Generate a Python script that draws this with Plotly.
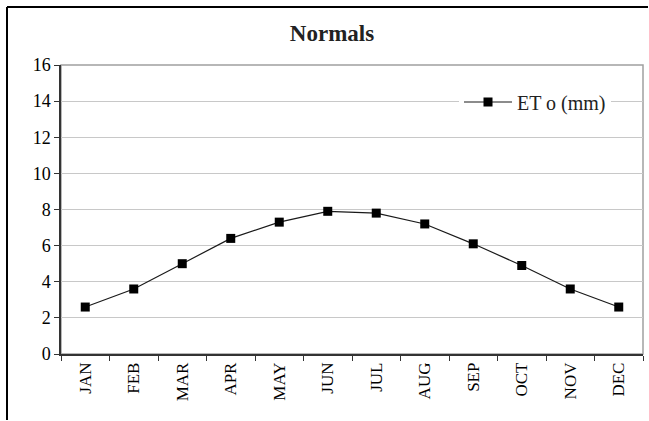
import plotly.graph_objects as go

# Monthly reference evapotranspiration normals
months = ["JAN", "FEB", "MAR", "APR", "MAY", "JUN",
          "JUL", "AUG", "SEP", "OCT", "NOV", "DEC"]
eto_mm = [2.6, 3.6, 5.0, 6.4, 7.3, 7.9, 7.8, 7.2, 6.1, 4.9, 3.6, 2.6]
y_ticks = [0, 2, 4, 6, 8, 10, 12, 14, 16]

W, H = 649, 421
L, R, T, B = 61, 6, 65, 67
serif = "Liberation Serif, Times New Roman, serif"


def px_x(p):
    return (p - L) / (W - L - R)


def px_y(p):
    return 1 - (p - T) / (H - T - B)


fig = go.Figure()
fig.add_trace(go.Scatter(
    x=months, y=eto_mm, name="ET o (mm)", mode="lines+markers",
    line=dict(color="#1a1a1a", width=1.2),
    marker=dict(symbol="square", size=9, color="#000000"),
))

fig.update_layout(
    width=W, height=H,
    margin=dict(l=L, r=R, t=T, b=B, autoexpand=False),
    paper_bgcolor="white", plot_bgcolor="white",
    font=dict(family=serif, size=17, color="#000000"),
    title=dict(text="<b>Normals</b>", xref="paper", x=px_x(332),
               xanchor="center", y=1 - 33 / H, yanchor="middle",
               font=dict(family=serif, size=23, color="#222222")),
    showlegend=True,
    legend=dict(x=px_x(459), y=px_y(102), xanchor="left", yanchor="middle",
                bgcolor="white", borderwidth=0,
                font=dict(family=serif, size=20, color="#222222"),
                itemwidth=48, tracegroupgap=0),
    shapes=[
        # plot-area frame (top and right edges show in grey)
        dict(type="rect", xref="paper", yref="paper", x0=0, x1=1, y0=0, y1=1,
             line=dict(color="#a0a0a0", width=1.5), layer="below"),
        # outer chart border, open to the right and bottom
        dict(type="line", xref="paper", yref="paper",
             x0=px_x(7), x1=px_x(7), y0=px_y(7), y1=px_y(H - 1),
             line=dict(color="#000000", width=2)),
        dict(type="line", xref="paper", yref="paper",
             x0=px_x(7), x1=px_x(W - 1), y0=px_y(7), y1=px_y(7),
             line=dict(color="#000000", width=2)),
    ],
)

fig.update_xaxes(
    type="category", range=[-0.5, 11.5], tickson="boundaries",
    ticks="outside", ticklen=5, tickcolor="#333333", tickangle=-90,
    showgrid=False, showline=True, linecolor="#333333", linewidth=1.5,
    automargin=False,
    tickfont=dict(family=serif, size=17, color="#000000"),
)
fig.update_yaxes(
    range=[0, 16], tickvals=y_ticks, ticks="outside", ticklen=5,
    tickcolor="#333333", showgrid=True, gridcolor="#c8c8c8", gridwidth=1,
    showline=True, linecolor="#333333", linewidth=1.5, zeroline=False,
    automargin=False,
    tickfont=dict(family=serif, size=18, color="#000000"),
)

fig.write_html("out.html")
